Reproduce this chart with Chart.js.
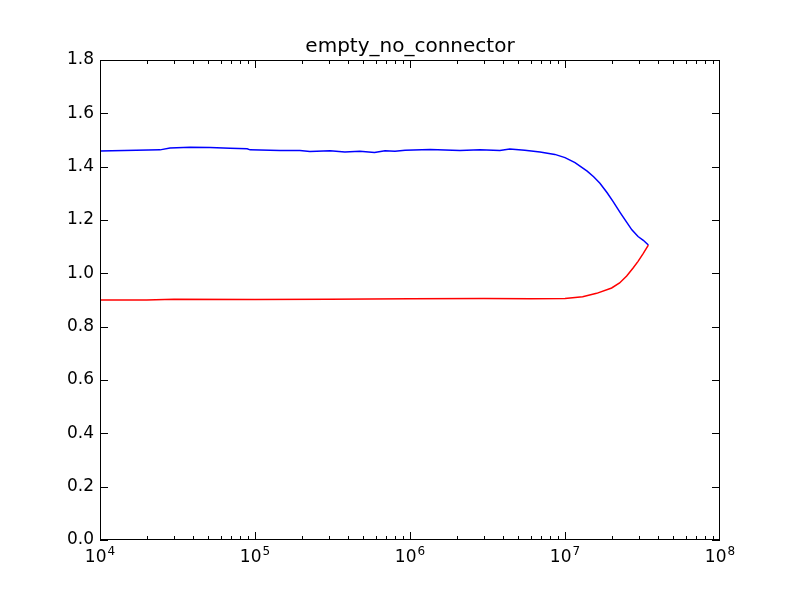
<!DOCTYPE html>
<html>
<head>
<meta charset="utf-8">
<script src="https://cdn.jsdelivr.net/npm/chart.js@4/dist/chart.umd.min.js"></script>
<style>
  body { margin: 0; background: #fff; }
</style>
</head>
<body>
<canvas id="chart" width="800" height="600"></canvas>
<script>
// data
const chartTitle = 'empty_no_connector';
const blueX = [1e4, 2.44e4, 2.83e4, 3.81e4, 5.13e4, 6.9e4, 8.9e4, 9.3e4, 1.45e5, 1.95e5, 2.26e5, 3.05e5, 3.8e5, 4.75e5, 5.9e5, 6.9e5, 8e5, 9.3e5, 1.35e6, 2.1e6, 2.83e6, 3.8e6, 4.4e6, 5.5e6, 6.9e6, 8.6e6, 1e7, 1.16e7, 1.39e7, 1.53e7, 1.68e7, 1.87e7, 2.04e7, 2.27e7, 2.51e7, 2.7e7, 2.96e7, 3.2e7, 3.45e7];
const blueY = [1.459, 1.463, 1.470, 1.473, 1.472, 1.469, 1.467, 1.463, 1.461, 1.461, 1.457, 1.460, 1.455, 1.458, 1.453, 1.460, 1.458, 1.462, 1.464, 1.461, 1.463, 1.461, 1.466, 1.462, 1.455, 1.446, 1.434, 1.415, 1.383, 1.362, 1.338, 1.302, 1.270, 1.228, 1.190, 1.163, 1.138, 1.124, 1.106];
const redX = [1e4, 2e4, 3e4, 1e5, 3e5, 1e6, 3e6, 6e6, 1e7, 1.3e7, 1.6e7, 2e7, 2.25e7, 2.5e7, 2.75e7, 2.96e7, 3.2e7, 3.45e7];
const redY = [0.900, 0.900, 0.903, 0.902, 0.903, 0.905, 0.906, 0.905, 0.906, 0.912, 0.925, 0.945, 0.964, 0.990, 1.020, 1.045, 1.075, 1.106];
const xTicks = [1e4, 1e5, 1e6, 1e7, 1e8];
const yTicks = [0, 0.2, 0.4, 0.6, 0.8, 1.0, 1.2, 1.4, 1.6, 1.8];

const font = '"DejaVu Sans", sans-serif';

// frame, inward ticks, title and 10^n labels like matplotlib
const framePlugin = {
  id: 'frame',
  afterDatasetsDraw(chart) {
    const ctx = chart.ctx;
    const a = chart.chartArea;
    const sx = chart.scales.x, sy = chart.scales.y;
    ctx.save();
    ctx.strokeStyle = '#000';
    ctx.lineWidth = 1;
    ctx.beginPath();
    for (let e = 4; e < 8; e++) {
      for (let m = 1; m < 10; m++) {
        let px = Math.round(sx.getPixelForValue(m * Math.pow(10, e))) + 0.5;
        let len = m === 1 ? 8 : 4;
        ctx.moveTo(px, a.bottom); ctx.lineTo(px, a.bottom - len);
        ctx.moveTo(px, a.top); ctx.lineTo(px, a.top + len);
      }
    }
    yTicks.forEach(v => {
      let py = Math.round(sy.getPixelForValue(v)) + 0.5;
      ctx.moveTo(a.left, py); ctx.lineTo(a.left + 8, py);
      ctx.moveTo(a.right, py); ctx.lineTo(a.right - 8, py);
    });
    ctx.stroke();
    ctx.strokeRect(a.left + 0.5, a.top + 0.5, a.right - a.left - 1, a.bottom - a.top - 1);

    // title
    ctx.fillStyle = '#000';
    ctx.textAlign = 'center';
    ctx.textBaseline = 'alphabetic';
    ctx.font = '20px ' + font;
    ctx.fillText(chartTitle, (a.left + a.right) / 2, 52);

    // x labels: 10 with superscript exponent
    ctx.textAlign = 'left';
    xTicks.forEach(v => {
      let px = sx.getPixelForValue(v);
      let base = '10', exp = String(Math.round(Math.log10(v)));
      ctx.font = '17px ' + font;
      let w1 = ctx.measureText(base).width;
      ctx.font = '12px ' + font;
      let w2 = ctx.measureText(exp).width;
      let x0 = px - (w1 + w2 + 1) / 2;
      ctx.font = '17px ' + font;
      ctx.fillText(base, x0, 562);
      ctx.font = '12px ' + font;
      ctx.fillText(exp, x0 + w1 + 1, 555);
    });
    ctx.restore();
  }
};

Chart.defaults.font.family = font;
Chart.defaults.color = '#000';

new Chart(document.getElementById('chart').getContext('2d'), {
  type: 'scatter',
  data: {
    datasets: [{
      data: redX.map((x, i) => ({x: x, y: redY[i]})),
      borderColor: '#ff0000',
      borderWidth: 1.5,
      showLine: true,
      pointRadius: 0,
      tension: 0
    }, {
      data: blueX.map((x, i) => ({x: x, y: blueY[i]})),
      borderColor: '#0000ff',
      borderWidth: 1.5,
      showLine: true,
      pointRadius: 0,
      tension: 0
    }]
  },
  options: {
    responsive: false,
    animation: false,
    layout: { padding: { left: 0, right: 80, top: 60, bottom: 0 } },
    plugins: {
      legend: { display: false },
      tooltip: { enabled: false },
      title: { display: false }
    },
    scales: {
      x: {
        type: 'logarithmic',
        min: 1e4,
        max: 1e8,
        afterBuildTicks(scale) { scale.ticks = xTicks.map(v => ({value: v})); },
        afterFit(scale) { scale.height = 60; },
        grid: { display: false, drawTicks: false },
        border: { display: false },
        ticks: { display: false }
      },
      y: {
        min: 0,
        max: 1.8,
        afterBuildTicks(scale) { scale.ticks = yTicks.map(v => ({value: v})); },
        afterFit(scale) { scale.width = 100; },
        grid: { display: false, drawTicks: false },
        border: { display: false },
        ticks: {
          font: { size: 17 },
          padding: 6,
          callback: v => v.toFixed(1)
        }
      }
    }
  },
  plugins: [framePlugin]
});
</script>
</body>
</html>
